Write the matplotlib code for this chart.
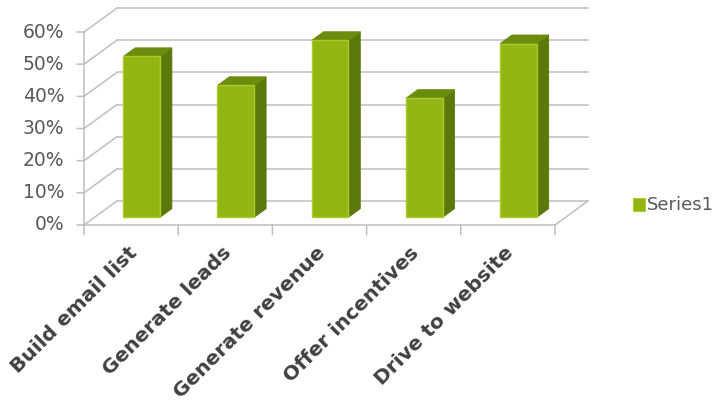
import numpy as np
import matplotlib.pyplot as plt
from matplotlib.patches import Polygon

# data
categories = ["Build email list", "Generate leads", "Generate revenue",
              "Offer incentives", "Drive to website"]
values = [0.50, 0.41, 0.55, 0.37, 0.54]
y_ticks = [0.0, 0.1, 0.2, 0.3, 0.4, 0.5, 0.6]
y_labels = ["0%", "10%", "20%", "30%", "40%", "50%", "60%"]
series_name = "Series1"

# oblique depth: full depth shifts by DX categories and DY value units
DX = 0.35
DY = 0.0746
bar_w = 0.39
z0, z1 = 0.32, 0.68

grid_c = "#bfbfbf"
front_c = "#94b614"
side_c = "#5c780a"
top_c = "#6c8c0e"
edge_c = "#a9cc2a"


def proj(x, y, z):
    return (x + DX * z, y + DY * z)


fig = plt.figure(figsize=(7.15, 4.07), dpi=100)
ax = fig.add_axes([84 / 715, 1 - 225 / 407, 471 / 715, 193 / 407])
ax.set_xlim(0, len(categories))
ax.set_ylim(0, 0.6)
ax.axis("off")

n = len(categories)

# back wall gridlines + left wall diagonals
for v in y_ticks:
    p0 = proj(0, v, 1)
    p1 = proj(n, v, 1)
    ax.plot([p0[0], p1[0]], [p0[1], p1[1]], color=grid_c, lw=1.1, clip_on=False)
    q0 = proj(0, v, 0)
    ax.plot([q0[0], p0[0]], [q0[1], p0[1]], color=grid_c, lw=1.1, clip_on=False)

# floor right edge
a = proj(n, 0, 0)
b = proj(n, 0, 1)
ax.plot([a[0], b[0]], [a[1], b[1]], color=grid_c, lw=1.1, clip_on=False)

# front axes
ax.plot([0, n], [0, 0], color=grid_c, lw=1.1, clip_on=False)
ax.plot([0, 0], [0, 0.6], color=grid_c, lw=1.1, clip_on=False)

# ticks
for i in range(n + 1):
    ax.annotate("", xy=(i, 0), xytext=(0, -7), textcoords="offset points",
                arrowprops=dict(arrowstyle="-", color=grid_c, lw=1.1,
                                shrinkA=0, shrinkB=0))
for v, lab in zip(y_ticks, y_labels):
    ax.annotate("", xy=(0, v), xytext=(-5, 0), textcoords="offset points",
                arrowprops=dict(arrowstyle="-", color=grid_c, lw=1.1,
                                shrinkA=0, shrinkB=0))
    ax.annotate(lab, xy=(0, v), xytext=(-14, 0), textcoords="offset points",
                ha="right", va="center", fontsize=13.5, color="#595959",
                family="DejaVu Sans")

# bars
for i, v in enumerate(values):
    xl = i + 0.5 - bar_w / 2
    xr = i + 0.5 + bar_w / 2
    front = [proj(xl, 0, z0), proj(xr, 0, z0), proj(xr, v, z0), proj(xl, v, z0)]
    side = [proj(xr, 0, z0), proj(xr, 0, z1), proj(xr, v, z1), proj(xr, v, z0)]
    top = [proj(xl, v, z0), proj(xr, v, z0), proj(xr, v, z1), proj(xl, v, z1)]
    ax.add_patch(Polygon(side, closed=True, fc=side_c, ec=side_c, lw=0.6,
                         clip_on=False, zorder=3))
    ax.add_patch(Polygon(top, closed=True, fc=top_c, ec=top_c, lw=0.6,
                         clip_on=False, zorder=3))
    ax.add_patch(Polygon(front, closed=True, fc=front_c, ec=edge_c, lw=1.0,
                         clip_on=False, zorder=4))

# category labels
for i, lab in enumerate(categories):
    ax.annotate(lab, xy=(i + 0.5, 0), xytext=(2, -18), textcoords="offset points",
                ha="right", va="center", rotation=45, rotation_mode="anchor",
                fontsize=14.5, fontweight="bold", color="#404040",
                family="DejaVu Sans")

# legend
fig.patches.append(plt.Rectangle((633 / 715, 1 - 211 / 407), 12 / 715, 13 / 407,
                                 transform=fig.transFigure, fc=front_c,
                                 ec=edge_c, lw=0.8))
fig.text(647 / 715, 1 - 205 / 407, series_name, ha="left", va="center",
         fontsize=13, color="#595959", family="DejaVu Sans")

fig.savefig("out.png", dpi=100)
